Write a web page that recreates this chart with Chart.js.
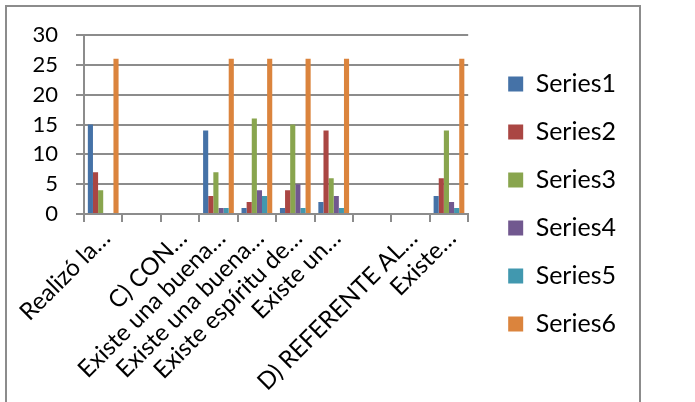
<!DOCTYPE html>
<html>
<head>
<meta charset="utf-8">
<script src="https://cdn.jsdelivr.net/npm/chart.js"></script>
<title>Series chart</title>
<style>
  body { margin: 0; background: #fff; }
  #frame { position: absolute; left: 5px; top: 5px; width: 632px; height: 420px; border: 2px solid #8c8c8c; }
  #box { position: absolute; left: 0; top: 0; width: 640px; height: 402px; }
</style>
</head>
<body>
<div id="frame"></div>
<div id="box"><canvas id="myChart"></canvas></div>

<script>
  // categories (blank rows and section headers have no values)
  const categories = ['Realizó la…', '', 'C) CON…', 'Existe una buena…', 'Existe una buena…',
                      'Existe espíritu de…', 'Existe un…', '', 'D) REFERENTE AL…', 'Existe…'];
  const seriesNames = ['Series1', 'Series2', 'Series3', 'Series4', 'Series5', 'Series6'];
  const series1 = [15, null, null, 14, 1, 1, 2, null, null, 3];
  const series2 = [7, null, null, 3, 2, 4, 14, null, null, 6];
  const series3 = [4, null, null, 7, 16, 15, 6, null, null, 14];
  const series4 = [0, null, null, 1, 4, 5, 3, null, null, 2];
  const series5 = [0, null, null, 1, 3, 1, 1, null, null, 1];
  const series6 = [26, null, null, 26, 26, 26, 26, null, null, 26];
  const yTicks = [0, 5, 10, 15, 20, 25, 30];

  const colors = ['#4572A7', '#AA4643', '#89A54E', '#71588F', '#4198AF', '#DB843D'];
  const allSeries = [series1, series2, series3, series4, series5, series6];
  const gridColor = '#8c8c8c';
  const LEGEND_GAP = 17;

  // keep some blank space between the plot and the legend
  const legendGap = {
    id: 'legendGap',
    beforeInit(chart) {
      const lg = chart.legend;
      const fit = lg.fit;
      lg.fit = function () { fit.call(this); this.width += LEGEND_GAP; };
    },
    afterLayout(chart) { chart.legend.left += LEGEND_GAP; }
  };

  const ctx = document.getElementById('myChart');
  new Chart(ctx, {
    type: 'bar',
    data: {
      labels: categories,
      datasets: allSeries.map((d, i) => ({
        label: seriesNames[i],
        data: d,
        backgroundColor: colors[i],
        borderWidth: 0,
        categoryPercentage: 0.8,
        barPercentage: 1.0
      }))
    },
    plugins: [legendGap],
    options: {
      responsive: true,
      maintainAspectRatio: false,
      animation: false,
      layout: { padding: { top: 35, bottom: 29, left: 0, right: 14 } },
      plugins: {
        tooltip: { enabled: false },
        legend: {
          position: 'right',
          labels: { boxWidth: 15, boxHeight: 15, padding: 23, color: '#000',
                    font: { family: 'Lato', size: 25 } }
        }
      },
      scales: {
        x: {
          grid: { drawOnChartArea: false, tickLength: 8, color: gridColor, lineWidth: 2 },
          border: { color: gridColor, width: 2 },
          ticks: { maxRotation: 45, minRotation: 45, autoSkip: false, padding: 2,
                   color: '#000', font: { family: 'Lato', size: 24 }, labelOffset: 3 },
          afterFit(s) {
            s.height = 159;
            s._computeLabelArea = () => null;   // long labels run below the axis box
          }
        },
        y: {
          min: 0,
          max: 30,
          grid: { tickLength: 8, color: gridColor, lineWidth: 2 },
          border: { color: gridColor, width: 2 },
          afterBuildTicks(s) { s.ticks = yTicks.map(v => ({ value: v })); },
          ticks: { padding: 18, color: '#000', font: { family: 'Lato', size: 22 } },
          afterFit(s) { s.width = 84; }
        }
      }
    }
  });
</script>

</body>
</html>
